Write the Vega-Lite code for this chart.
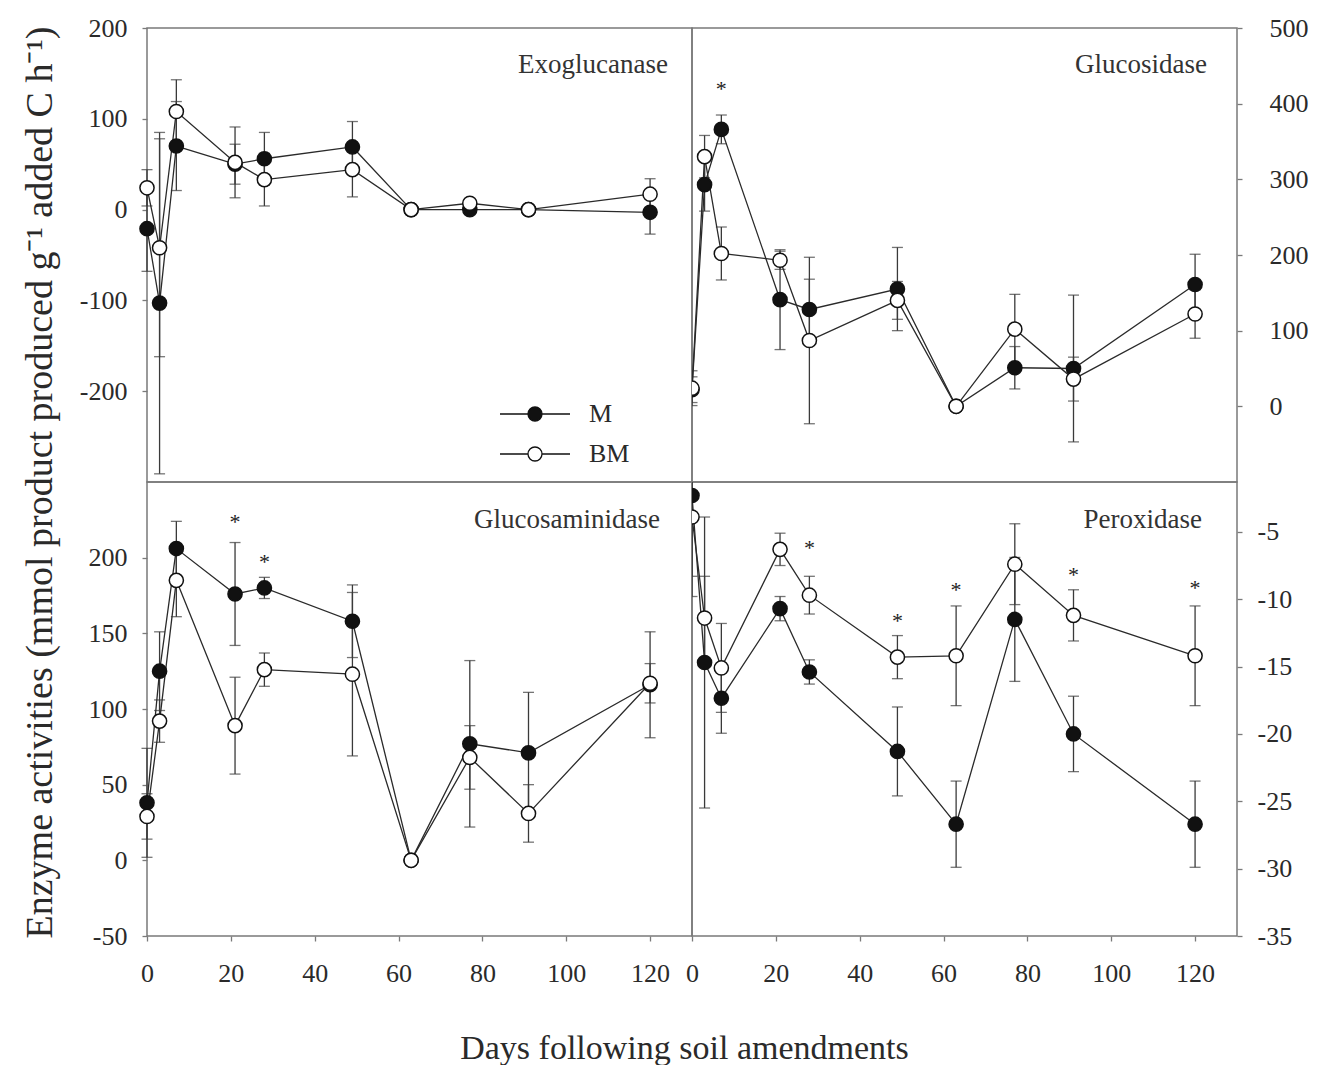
{
  "$schema": "https://vega.github.io/schema/vega-lite/v6.json",
  "background": "white",
  "padding": {"left": 20, "top": 14, "right": 5, "bottom": 5},
  "datasets": {
    "exo": [
      {"t":"M","d":0,"v":-21,"e":47},{"t":"M","d":3,"v":-103,"e":188},{"t":"M","d":7,"v":70,"e":49},{"t":"M","d":21,"v":50,"e":22},{"t":"M","d":28,"v":56,"e":29},{"t":"M","d":49,"v":69,"e":28},{"t":"M","d":63,"v":0,"e":0},{"t":"M","d":77,"v":0,"e":2},{"t":"M","d":91,"v":0,"e":0},{"t":"M","d":120,"v":-3,"e":24},
      {"t":"BM","d":0,"v":24,"e":20},{"t":"BM","d":3,"v":-42,"e":120},{"t":"BM","d":7,"v":108,"e":35},{"t":"BM","d":21,"v":52,"e":39},{"t":"BM","d":28,"v":33,"e":29},{"t":"BM","d":49,"v":44,"e":30},{"t":"BM","d":63,"v":0,"e":0},{"t":"BM","d":77,"v":7,"e":3},{"t":"BM","d":91,"v":0,"e":0},{"t":"BM","d":120,"v":17,"e":17}
    ],
    "glc": [
      {"t":"M","d":0,"v":22,"e":17},{"t":"M","d":3,"v":293,"e":35},{"t":"M","d":7,"v":366,"e":19},{"t":"M","d":21,"v":141,"e":66},{"t":"M","d":28,"v":128,"e":40},{"t":"M","d":49,"v":155,"e":55},{"t":"M","d":63,"v":0,"e":0},{"t":"M","d":77,"v":51,"e":28},{"t":"M","d":91,"v":50,"e":97},{"t":"M","d":120,"v":161,"e":40},
      {"t":"BM","d":0,"v":24,"e":23},{"t":"BM","d":3,"v":330,"e":28},{"t":"BM","d":7,"v":202,"e":35},{"t":"BM","d":21,"v":193,"e":12},{"t":"BM","d":28,"v":87,"e":110},{"t":"BM","d":49,"v":140,"e":25},{"t":"BM","d":63,"v":0,"e":0},{"t":"BM","d":77,"v":102,"e":46},{"t":"BM","d":91,"v":36,"e":29},{"t":"BM","d":120,"v":122,"e":32}
    ],
    "gam": [
      {"t":"M","d":0,"v":38,"e":36},{"t":"M","d":3,"v":125,"e":26},{"t":"M","d":7,"v":206,"e":18},{"t":"M","d":21,"v":176,"e":34},{"t":"M","d":28,"v":180,"e":7},{"t":"M","d":49,"v":158,"e":24},{"t":"M","d":63,"v":0,"e":0},{"t":"M","d":77,"v":77,"e":55},{"t":"M","d":91,"v":71,"e":40},{"t":"M","d":120,"v":116,"e":35},
      {"t":"BM","d":0,"v":29,"e":15},{"t":"BM","d":3,"v":92,"e":14},{"t":"BM","d":7,"v":185,"e":24},{"t":"BM","d":21,"v":89,"e":32},{"t":"BM","d":28,"v":126,"e":11},{"t":"BM","d":49,"v":123,"e":54},{"t":"BM","d":63,"v":0,"e":0},{"t":"BM","d":77,"v":68,"e":21},{"t":"BM","d":91,"v":31,"e":19},{"t":"BM","d":120,"v":117,"e":13}
    ],
    "per": [
      {"t":"M","d":0,"v":-2.3,"e":7.5},{"t":"M","d":3,"v":-14.7,"e":10.8},{"t":"M","d":7,"v":-17.35,"e":2.6},{"t":"M","d":21,"v":-10.7,"e":0.9},{"t":"M","d":28,"v":-15.4,"e":0.9},{"t":"M","d":49,"v":-21.3,"e":3.3},{"t":"M","d":63,"v":-26.7,"e":3.2},{"t":"M","d":77,"v":-11.5,"e":4.6},{"t":"M","d":91,"v":-20.0,"e":2.8},{"t":"M","d":120,"v":-26.7,"e":3.2},
      {"t":"BM","d":0,"v":-3.9,"e":4.4},{"t":"BM","d":3,"v":-11.4,"e":3.1},{"t":"BM","d":7,"v":-15.1,"e":3.3},{"t":"BM","d":21,"v":-6.3,"e":1.2},{"t":"BM","d":28,"v":-9.7,"e":1.4},{"t":"BM","d":49,"v":-14.3,"e":1.6},{"t":"BM","d":63,"v":-14.2,"e":3.7},{"t":"BM","d":77,"v":-7.4,"e":3.0},{"t":"BM","d":91,"v":-11.2,"e":1.9},{"t":"BM","d":120,"v":-14.2,"e":3.7}
    ],
    "stars": [
      {"p":"glc","d":7,"v":425},
      {"p":"gam","d":21,"v":226},{"p":"gam","d":28,"v":200},
      {"p":"per","d":28,"v":-5.9},{"p":"per","d":49,"v":-11.3},{"p":"per","d":63,"v":-9.0},{"p":"per","d":91,"v":-7.9},{"p":"per","d":120,"v":-8.9}
    ]
  },
  "config": {
    "font": "Liberation Serif",
    "view": {"stroke": "#7a7a7a", "strokeWidth": 1.5},
    "axis": {"grid": false, "domain": false, "tickColor": "#7a7a7a", "tickSize": 5, "tickWidth": 1.3, "labelFont": "Liberation Serif", "labelFontSize": 26, "labelColor": "#2a2a2a", "titleFont": "Liberation Serif", "titleFontWeight": "normal", "titleColor": "#2a2a2a", "labelFlush": false, "labelOverlap": false, "labelExpr": "datum.value + ''"},
    "title": {"font": "Liberation Serif", "fontSize": 27, "fontWeight": "normal", "color": "#333333"}
  },
  "columns": 2,
  "spacing": 0,
  "bounds": "flush",
  "resolve": {"scale": {"x": "independent", "y": "independent", "fill": "independent"}, "legend": {"fill": "independent"}},
  "concat": [
    {
      "width": 545, "height": 454,
      "data": {"name": "exo"},
      "title": {"text": "Exoglucanase", "anchor": "end", "frame": "group", "orient": "top", "offset": -85, "baseline": "alphabetic", "dx": -24},
      "encoding": {
        "x": {"field": "d", "type": "quantitative", "scale": {"domain": [0, 130], "nice": false, "zero": false}, "axis": null},
        "y": {"field": "v", "type": "quantitative", "scale": {"domain": [-300, 200], "nice": false, "zero": false},
              "axis": {"values": [-200, -100, 0, 100, 200], "labelPadding": 15,
                       "title": "Enzyme activities (mmol product produced g⁻¹ added C h⁻¹)",
                       "titleX": -96, "titleY": 454, "titleAngle": 270, "titleAlign": "center", "titleBaseline": "alphabetic", "titleFontSize": 38}}
      },
      "layer": [
        {"mark": {"type": "errorbar", "ticks": true, "size": 11, "thickness": 1.3, "color": "#3a3a3a"}, "encoding": {"yError": {"field": "e"}}},
        {"mark": {"type": "line", "color": "#2a2a2a", "strokeWidth": 1.3}, "encoding": {"detail": {"field": "t"}}},
        {"mark": {"type": "point", "shape": "circle", "filled": true, "size": 200, "stroke": "#111111", "strokeWidth": 1.5, "opacity": 1},
         "encoding": {"fill": {"field": "t", "type": "nominal", "scale": {"domain": ["M", "BM"], "range": ["#111111", "#ffffff"]},
           "legend": {"orient": "none", "legendX": 375, "legendY": 373, "title": null, "padding": 0,
             "symbolType": "M-7,0H-1.4M1.4,0H7M1.4,0A1.4,1.4,0,1,1,-1.4,0A1.4,1.4,0,1,1,1.4,0Z",
             "symbolSize": 100, "symbolStrokeColor": "#111111", "symbolStrokeWidth": 1.3,
             "labelFont": "Liberation Serif", "labelFontSize": 26, "labelColor": "#2a2a2a", "labelOffset": 41, "rowPadding": 14}}}}
      ]
    },
    {
      "width": 545, "height": 454,
      "data": {"name": "glc"},
      "title": {"text": "Glucosidase", "anchor": "end", "frame": "group", "orient": "top", "offset": -85, "baseline": "alphabetic", "dx": -30},
      "encoding": {
        "x": {"field": "d", "type": "quantitative", "scale": {"domain": [0, 130], "nice": false, "zero": false}, "axis": null},
        "y": {"field": "v", "type": "quantitative", "scale": {"domain": [-100, 500], "nice": false, "zero": false},
              "axis": {"orient": "right", "values": [0, 100, 200, 300, 400, 500], "labelPadding": 27, "title": null}}
      },
      "layer": [
        {"mark": {"type": "errorbar", "ticks": true, "size": 11, "thickness": 1.3, "color": "#3a3a3a", "clip": true}, "encoding": {"yError": {"field": "e"}}},
        {"mark": {"type": "line", "color": "#2a2a2a", "strokeWidth": 1.3, "clip": true}, "encoding": {"detail": {"field": "t"}}},
        {"mark": {"type": "point", "shape": "circle", "filled": true, "size": 200, "stroke": "#111111", "strokeWidth": 1.5, "opacity": 1, "clip": true},
         "encoding": {"fill": {"field": "t", "type": "nominal", "scale": {"domain": ["M", "BM"], "range": ["#111111", "#ffffff"]}, "legend": null}}},
        {"data": {"name": "stars"}, "transform": [{"filter": "datum.p == 'glc'"}],
         "mark": {"type": "text", "text": "*", "fontSize": 22, "font": "Liberation Serif", "baseline": "middle", "dy": 4, "color": "#222222"}}
      ]
    },
    {
      "width": 545, "height": 454,
      "data": {"name": "gam"},
      "title": {"text": "Glucosaminidase", "anchor": "end", "frame": "group", "orient": "top", "offset": -73, "baseline": "alphabetic", "dx": -32},
      "encoding": {
        "x": {"field": "d", "type": "quantitative", "scale": {"domain": [0, 130], "nice": false, "zero": false},
              "axis": {"values": [0, 20, 40, 60, 80, 100, 120], "labelPadding": 19,
                       "title": "Days following soil amendments", "titleX": 537, "titleY": 122, "titleAlign": "center", "titleBaseline": "alphabetic", "titleFontSize": 34}},
        "y": {"field": "v", "type": "quantitative", "scale": {"domain": [-50, 250], "nice": false, "zero": false},
              "axis": {"values": [-50, 0, 50, 100, 150, 200], "labelPadding": 15, "title": null}}
      },
      "layer": [
        {"mark": {"type": "errorbar", "ticks": true, "size": 11, "thickness": 1.3, "color": "#3a3a3a"}, "encoding": {"yError": {"field": "e"}}},
        {"mark": {"type": "line", "color": "#2a2a2a", "strokeWidth": 1.3}, "encoding": {"detail": {"field": "t"}}},
        {"mark": {"type": "point", "shape": "circle", "filled": true, "size": 200, "stroke": "#111111", "strokeWidth": 1.5, "opacity": 1},
         "encoding": {"fill": {"field": "t", "type": "nominal", "scale": {"domain": ["M", "BM"], "range": ["#111111", "#ffffff"]}, "legend": null}}},
        {"data": {"name": "stars"}, "transform": [{"filter": "datum.p == 'gam'"}],
         "mark": {"type": "text", "text": "*", "fontSize": 22, "font": "Liberation Serif", "baseline": "middle", "dy": 4, "color": "#222222"}}
      ]
    },
    {
      "width": 545, "height": 454,
      "data": {"name": "per"},
      "title": {"text": "Peroxidase", "anchor": "end", "frame": "group", "orient": "top", "offset": -73, "baseline": "alphabetic", "dx": -35},
      "encoding": {
        "x": {"field": "d", "type": "quantitative", "scale": {"domain": [0, 130], "nice": false, "zero": false},
              "axis": {"values": [0, 20, 40, 60, 80, 100, 120], "labelPadding": 19, "title": null}},
        "y": {"field": "v", "type": "quantitative", "scale": {"domain": [-35, -1.3], "nice": false, "zero": false},
              "axis": {"orient": "right", "values": [-35, -30, -25, -20, -15, -10, -5], "labelPadding": 15, "title": null}}
      },
      "layer": [
        {"mark": {"type": "errorbar", "ticks": true, "size": 11, "thickness": 1.3, "color": "#3a3a3a", "clip": true}, "encoding": {"yError": {"field": "e"}}},
        {"mark": {"type": "line", "color": "#2a2a2a", "strokeWidth": 1.3, "clip": true}, "encoding": {"detail": {"field": "t"}}},
        {"mark": {"type": "point", "shape": "circle", "filled": true, "size": 200, "stroke": "#111111", "strokeWidth": 1.5, "opacity": 1, "clip": true},
         "encoding": {"fill": {"field": "t", "type": "nominal", "scale": {"domain": ["M", "BM"], "range": ["#111111", "#ffffff"]}, "legend": null}}},
        {"data": {"name": "stars"}, "transform": [{"filter": "datum.p == 'per'"}],
         "mark": {"type": "text", "text": "*", "fontSize": 22, "font": "Liberation Serif", "baseline": "middle", "dy": 4, "color": "#222222"}}
      ]
    }
  ]
}
